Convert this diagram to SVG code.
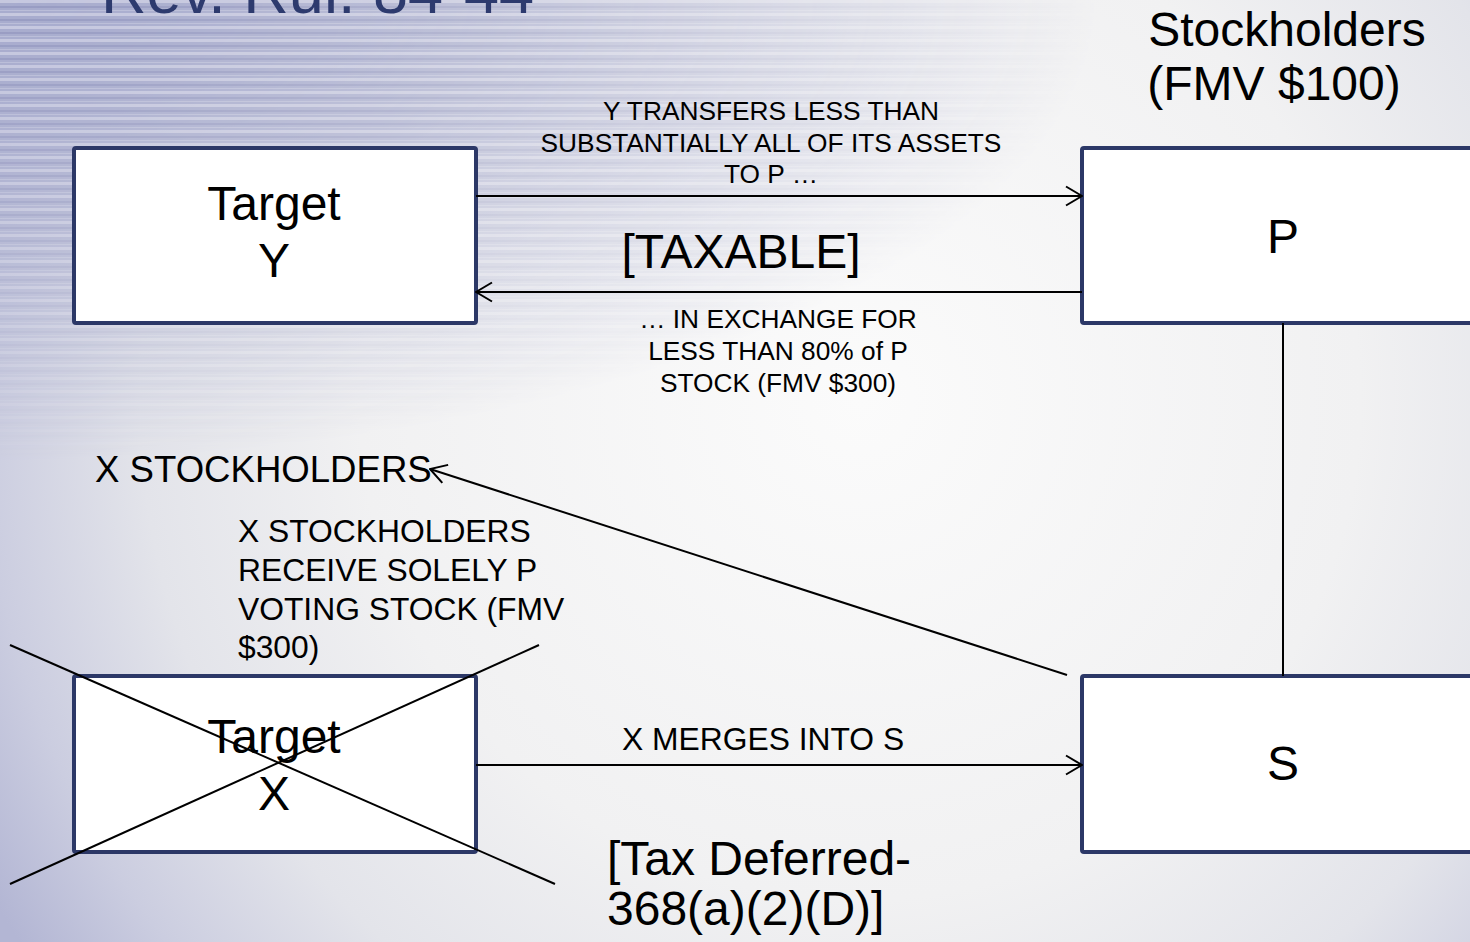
<svg xmlns="http://www.w3.org/2000/svg" width="1470" height="942" viewBox="0 0 1470 942">
  <defs>
    <radialGradient id="bg" cx="860" cy="400" r="1000" gradientUnits="userSpaceOnUse">
      <stop offset="0" stop-color="#fbfbfb"/>
      <stop offset="0.5" stop-color="#f1f1f2"/>
      <stop offset="0.72" stop-color="#e3e4ea"/>
      <stop offset="0.88" stop-color="#cbcde0"/>
      <stop offset="1" stop-color="#b3b6d4"/>
    </radialGradient>
    <radialGradient id="cornerFade" cx="0" cy="0" r="1100" gradientUnits="userSpaceOnUse" gradientTransform="scale(1 0.42)">
      <stop offset="0" stop-color="#fff" stop-opacity="1"/>
      <stop offset="0.45" stop-color="#fff" stop-opacity="0.65"/>
      <stop offset="1" stop-color="#fff" stop-opacity="0"/>
    </radialGradient>
    <mask id="cornerMask">
      <rect width="1470" height="942" fill="url(#cornerFade)"/>
    </mask>
    <pattern id="streaks" width="60" height="13" patternUnits="userSpaceOnUse">
      <rect width="60" height="13" fill="#a7abcd"/>
      <rect y="0" width="60" height="3" fill="#c6c8df"/>
      <rect y="6" width="60" height="2" fill="#979bc2"/>
      <rect y="10" width="60" height="1" fill="#babdd8"/>
    </pattern>
    <marker id="open" viewBox="0 0 18 22" refX="17" refY="11" markerWidth="18" markerHeight="22" markerUnits="userSpaceOnUse" orient="auto">
      <path d="M1,1.5 L17,11 L1,20.5" fill="none" stroke="#000" stroke-width="2"/>
    </marker>
    <style>
      .box { fill: #ffffff; stroke: #2c3867; stroke-width: 4; }
      .big { font-family: "Liberation Sans", Arial, sans-serif; font-size: 48px; fill: #000; text-anchor: middle; }
      .lbl { font-family: "Liberation Sans", Arial, sans-serif; font-size: 26.3px; fill: #000; text-anchor: middle; }
      .mid { font-family: "Liberation Sans", Arial, sans-serif; font-size: 31.8px; fill: #000; }
      .edge { stroke: #000; stroke-width: 2; fill: none; }
      .title { font-family: "Liberation Sans", Arial, sans-serif; font-size: 63px; fill: #2d3a6e; }
    </style>
  </defs>

  <!-- backdrop: soft vignette plus brushed streaks along the top-left -->
  <rect width="1470" height="942" fill="url(#bg)"/>
  <rect width="1470" height="942" fill="url(#streaks)" mask="url(#cornerMask)"/>

  <text class="title" x="101" y="13">Rev. Rul. 84-44</text>

  <g id="stockholders">
    <text class="big" x="1287" y="46">Stockholders</text>
    <text class="big" x="1274" y="100">(FMV $100)</text>
  </g>

  <g id="target-y">
    <rect class="box" x="74" y="148" width="402" height="175" rx="2"/>
    <text class="big" x="274" y="220">Target</text>
    <text class="big" x="274" y="277">Y</text>
  </g>

  <g id="p">
    <rect class="box" x="1082" y="148" width="402" height="175" rx="2"/>
    <text class="big" x="1283" y="253">P</text>
  </g>

  <g id="target-x">
    <rect class="box" x="74" y="676" width="402" height="176" rx="2"/>
    <text class="big" x="274" y="753">Target</text>
    <text class="big" x="274" y="810">X</text>
    <line class="edge" x1="10" y1="645" x2="555" y2="884"/>
    <line class="edge" x1="10" y1="884" x2="539" y2="645"/>
  </g>

  <g id="s">
    <rect class="box" x="1082" y="676" width="402" height="176" rx="2"/>
    <text class="big" x="1283" y="780">S</text>
  </g>

  <g id="x-stockholders">
    <text class="mid" x="95" y="482" style="font-size:36.6px">X STOCKHOLDERS</text>
  </g>

  <g id="connectors">
    <line class="edge" x1="476" y1="196" x2="1082" y2="196" marker-end="url(#open)"/>
    <line class="edge" x1="1082" y1="292" x2="476" y2="292" marker-end="url(#open)"/>
    <line class="edge" x1="1283" y1="323" x2="1283" y2="676"/>
    <line class="edge" x1="476" y1="765" x2="1082" y2="765" marker-end="url(#open)"/>
    <line class="edge" x1="1067" y1="675" x2="430" y2="469" marker-end="url(#open)"/>
  </g>

  <g id="labels">
    <text class="lbl" x="771" y="120">Y TRANSFERS LESS THAN</text>
    <text class="lbl" x="771" y="152">SUBSTANTIALLY ALL OF ITS ASSETS</text>
    <text class="lbl" x="771" y="183">TO P …</text>
    <text class="big" x="741" y="268">[TAXABLE]</text>
    <text class="lbl" x="778" y="328">… IN EXCHANGE FOR</text>
    <text class="lbl" x="778" y="360">LESS THAN 80% of P</text>
    <text class="lbl" x="778" y="392">STOCK (FMV $300)</text>
    <text class="mid" x="238" y="542">X STOCKHOLDERS</text>
    <text class="mid" x="238" y="581">RECEIVE SOLELY P</text>
    <text class="mid" x="238" y="620">VOTING STOCK (FMV</text>
    <text class="mid" x="238" y="658">$300)</text>
    <text class="mid" x="622" y="750">X MERGES INTO S</text>
    <text class="big" x="607" y="875" style="text-anchor:start">[Tax Deferred-</text>
    <text class="big" x="607" y="925" style="text-anchor:start">368(a)(2)(D)]</text>
  </g>
</svg>
